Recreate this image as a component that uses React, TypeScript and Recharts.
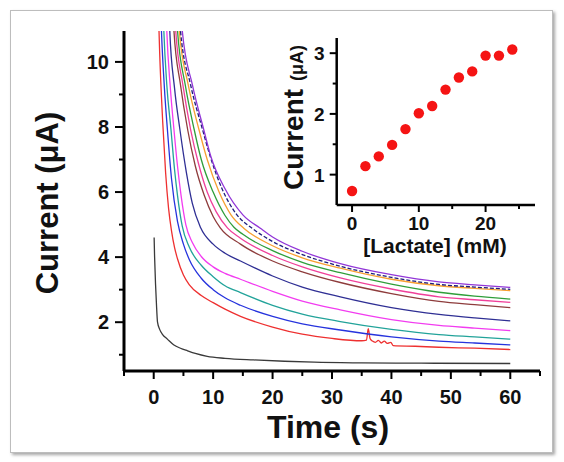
import React from 'react';
import { LineChart, Line, XAxis, YAxis, ScatterChart, Scatter } from 'recharts';

// main plot: current transients, time in s, current in uA
const timeTicks = [-5, 0, 5, 10, 15, 20, 25, 30, 35, 40, 45, 50, 55, 60, 65];
const currentTicks = [1, 2, 3, 4, 5, 6, 7, 8, 9, 10];

const blank0mM = [[0.07, 4.6], [0.15, 4.0], [0.3, 3.2], [0.45, 2.6], [0.64, 2.0], [1, 1.78], [1.5, 1.62], [2.3, 1.48], [3.4, 1.3], [4.5, 1.2], [5.7, 1.12], [7, 1.04], [9, 0.95], [12, 0.89], [16.8, 0.84], [22, 0.8], [27, 0.77], [35, 0.75], [45, 0.74], [60, 0.73]];
const red = [[0.8, 11.5], [1, 10.3], [1.5, 8.2], [2, 6.6], [2.5, 5.5], [3, 4.8], [3.5, 4.3], [4, 3.95], [5, 3.45], [6, 3.15], [8, 2.82], [10, 2.6], [12, 2.4], [14.6, 2.18], [20, 1.85], [25, 1.63], [30, 1.5], [35, 1.43], [35.8, 1.45], [36.1, 1.8], [36.4, 1.5], [36.8, 1.42], [37.3, 1.38], [37.8, 1.44], [38.3, 1.36], [38.8, 1.42], [39.3, 1.35], [39.9, 1.38], [40.3, 1.28], [44, 1.26], [48, 1.23], [54, 1.2], [60, 1.16]];
const blue = [[1.2, 11.5], [1.3, 10.97], [1.8, 9.2], [2.3, 7.93], [3, 6.4], [4, 5.1], [5, 4.4], [6, 3.92], [8, 3.35], [10, 3.0], [12, 2.75], [14.6, 2.52], [20, 2.18], [25, 1.95], [31.4, 1.76], [40, 1.55], [48, 1.42], [54, 1.36], [60, 1.3]];
const teal = [[1.6, 11.5], [1.7, 10.97], [2.2, 9.3], [2.9, 7.93], [3.5, 6.7], [4, 5.9], [4.8, 4.95], [6, 4.3], [8, 3.75], [10, 3.4], [12, 3.12], [14.6, 2.91], [20, 2.52], [25, 2.25], [31.4, 2.02], [40, 1.78], [48, 1.62], [54, 1.55], [60, 1.48]];
const magenta = [[2.1, 11.5], [2.2, 10.97], [2.8, 9.2], [3.4, 7.93], [4, 6.8], [4.6, 5.9], [5.4, 5.0], [6.5, 4.45], [8, 4.02], [10, 3.7], [12, 3.5], [14.6, 3.32], [20, 2.95], [25, 2.65], [31.4, 2.38], [40, 2.08], [48, 1.9], [54, 1.82], [60, 1.74]];
const navy = [[2.6, 11.5], [2.7, 10.97], [3.5, 9.2], [4.4, 7.93], [5.5, 6.6], [6.5, 5.65], [7.9, 4.9], [10, 4.4], [12, 4.12], [14.6, 3.88], [20, 3.42], [25, 3.08], [31.4, 2.78], [40, 2.45], [48, 2.24], [54, 2.13], [60, 2.04]];
const brown = [[3.3, 11.5], [3.4, 10.97], [4.5, 9.3], [5.7, 7.93], [7, 6.8], [8.5, 5.9], [10, 5.25], [11.2, 4.9], [14.6, 4.4], [20, 3.88], [25, 3.55], [31.4, 3.22], [40, 2.88], [48, 2.64], [54, 2.54], [60, 2.45]];
const pink = [[3.6, 11.5], [3.7, 10.97], [4.9, 9.3], [6.2, 7.93], [7.5, 6.9], [9, 6.0], [10.5, 5.4], [12.4, 4.9], [14.6, 4.58], [20, 4.05], [25, 3.7], [31.4, 3.36], [40, 3.02], [48, 2.78], [54, 2.69], [60, 2.61]];
const green = [[3.9, 11.5], [4, 10.97], [5.3, 9.3], [6.8, 7.93], [8, 7.0], [10, 6.0], [12, 5.28], [13.5, 4.92], [15, 4.7], [20, 4.2], [25, 3.84], [31.4, 3.52], [40, 3.17], [48, 2.92], [54, 2.8], [60, 2.71]];
const orange = [[4.2, 11.5], [4.3, 10.97], [5.8, 9.3], [7.6, 7.93], [9, 7.0], [11, 6.0], [13, 5.3], [15.2, 4.88], [20, 4.35], [25, 3.98], [31.4, 3.66], [40, 3.32], [48, 3.12], [54, 3.04], [60, 2.97]];
const navyDashed = [[4.4, 11.5], [4.5, 10.97], [6.2, 9.3], [8.2, 7.93], [9.5, 7.1], [11.5, 6.1], [14, 5.3], [16.6, 4.88], [20, 4.48], [25, 4.08], [31.4, 3.72], [40, 3.38], [48, 3.16], [54, 3.08], [60, 3.01]];
const purple = [[4.7, 11.5], [4.8, 10.97], [6.5, 9.3], [8.4, 7.93], [9.6, 7.1], [12, 6.1], [15, 5.3], [18, 4.88], [20, 4.62], [25, 4.18], [31.4, 3.8], [40, 3.46], [48, 3.24], [54, 3.15], [60, 3.07]];

// inset: current vs lactate
const lactate = [0, 2, 4, 6, 8, 10, 12, 14, 16, 18, 20, 22, 24];
const insetCurrent = [0.73, 1.14, 1.3, 1.49, 1.75, 2.01, 2.13, 2.4, 2.6, 2.7, 2.96, 2.96, 3.06];
const lactateTicks = [0, 5, 10, 15, 20, 25];
const insetCurrentTicks = [1, 1.5, 2, 2.5, 3];

const series = [
  { name: '0', pts: blank0mM, color: '#3a3a3a' },
  { name: 'red', pts: red, color: '#ee3030' },
  { name: 'blue', pts: blue, color: '#2633dd' },
  { name: 'teal', pts: teal, color: '#22a39a' },
  { name: 'magenta', pts: magenta, color: '#f23cf0' },
  { name: 'navy', pts: navy, color: '#2f2f94' },
  { name: 'brown', pts: brown, color: '#8e3c3c' },
  { name: 'pink', pts: pink, color: '#f0409a' },
  { name: 'green', pts: green, color: '#2f9e3a' },
  { name: 'orange', pts: orange, color: '#f7a032' },
  { name: 'navyDashed', pts: navyDashed, color: '#1d1d7a', dash: '4 2' },
  { name: 'purple', pts: purple, color: '#9236d8' },
];

const FONT = '"Liberation Sans", Arial, sans-serif';
const toRows = (pts: number[][]) => pts.map(([t, v]) => ({ t, v }));
const scatterData = lactate.map((x, i) => ({ x, y: insetCurrent[i] }));

const MainXTick = (props: any) => {
  const { x, y, payload } = props;
  const major = payload.value % 10 === 0;
  return (
    <g>
      <line x1={x} y1={y} x2={x} y2={y + (major ? 8 : 5)} stroke="#000" strokeWidth={2} />
      {major && (
        <text x={x} y={y + 33} textAnchor="middle" fontSize={20} fontWeight="bold" fontFamily={FONT} fill="#111">
          {payload.value}
        </text>
      )}
    </g>
  );
};

const MainYTick = (props: any) => {
  const { x, y, payload } = props;
  const major = payload.value % 2 === 0;
  return (
    <g>
      <line x1={x} y1={y} x2={x - (major ? 9 : 5)} y2={y} stroke="#000" strokeWidth={2} />
      {major && (
        <text x={x - 15} y={y + 7} textAnchor="end" fontSize={20} fontWeight="bold" fontFamily={FONT} fill="#111">
          {payload.value}
        </text>
      )}
    </g>
  );
};

const InsetXTick = (props: any) => {
  const { x, y, payload } = props;
  const major = payload.value % 10 === 0;
  return (
    <g>
      <line x1={x} y1={y} x2={x} y2={y + (major ? 7 : 4)} stroke="#000" strokeWidth={2} />
      {major && (
        <text x={x} y={y + 25} textAnchor="middle" fontSize={19} fontWeight="bold" fontFamily={FONT} fill="#111">
          {payload.value}
        </text>
      )}
    </g>
  );
};

const InsetYTick = (props: any) => {
  const { x, y, payload } = props;
  const major = Number.isInteger(payload.value);
  return (
    <g>
      <line x1={x} y1={y} x2={x - (major ? 7 : 4)} y2={y} stroke="#000" strokeWidth={2} />
      {major && (
        <text x={x - 12} y={y + 7} textAnchor="end" fontSize={19} fontWeight="bold" fontFamily={FONT} fill="#111">
          {payload.value}
        </text>
      )}
    </g>
  );
};

const frame = { stroke: '#000', strokeWidth: 3 };
const insetFrame = { stroke: '#000', strokeWidth: 2.5 };

export default function App() {
  return (
    <div style={{ position: 'absolute', left: 0, top: 0, width: 564, height: 462, background: '#fff' }}>
      <div
        style={{
          position: 'absolute', left: 10, top: 10, width: 541, height: 441,
          border: '1px solid #bdbdbd', boxShadow: '2px 2px 3px rgba(0,0,0,0.35)', background: '#fff',
        }}
      />
      <div style={{ position: 'absolute', left: 0, top: 0 }}>
        <LineChart width={564} height={462} margin={{ top: 31, right: 24, bottom: 31, left: 64 }}>
          <XAxis
            xAxisId="b" dataKey="t" type="number" domain={[-5, 65]} ticks={timeTicks}
            allowDataOverflow height={60} tickSize={0} tickMargin={0} tick={<MainXTick />}
            axisLine={frame} tickLine={false} interval={0}
            label={{
              content: () => (
                <text x={328} y={438} textAnchor="middle" fontSize={32} fontWeight="bold" fontFamily={FONT} fill="#111">
                  Time (s)
                </text>
              ),
            }}
          />
          <XAxis xAxisId="top" orientation="top" type="number" domain={[-5, 65]} height={0} tick={false} tickLine={false} axisLine={frame} />
          <YAxis
            yAxisId="l" type="number" domain={[0.5, 10.95]} ticks={currentTicks} allowDataOverflow
            width={60} tickSize={0} tickMargin={0} tick={<MainYTick />} axisLine={frame} tickLine={false} interval={0}
            label={{
              content: () => (
                <text x={58} y={203} transform="rotate(-90, 58, 203)" textAnchor="middle" fontSize={31} fontWeight="bold" fontFamily={FONT} fill="#111">
                  Current (μA)
                </text>
              ),
            }}
          />
          <YAxis yAxisId="r" orientation="right" type="number" domain={[0.5, 10.95]} width={0} tick={false} tickLine={false} axisLine={frame} />
          {series.map((s) => (
            <Line
              key={s.name} xAxisId="b" yAxisId="l" data={toRows(s.pts)} dataKey="v" type="monotone"
              stroke={s.color} strokeWidth={1.3} strokeDasharray={s.dash} dot={false} isAnimationActive={false}
            />
          ))}
        </LineChart>
      </div>
      <div style={{ position: 'absolute', left: 270, top: 20 }}>
        <ScatterChart width={280} height={240} margin={{ top: 18, right: 15, bottom: 5, left: 6 }}>
          <rect x={66.7} y={18.3} width={198.3} height={166.7} fill="#fff" />
          <XAxis
            xAxisId="b" dataKey="x" type="number" domain={[-2.3, 27.4]} ticks={lactateTicks} allowDataOverflow
            height={50} tickSize={0} tickMargin={0} tick={<InsetXTick />} axisLine={insetFrame} tickLine={false} interval={0}
            label={{
              content: () => (
                <text x={165} y={233} textAnchor="middle" fontSize={21} fontWeight="bold" fontFamily={FONT} fill="#111">
                  [Lactate] (mM)
                </text>
              ),
            }}
          />
          <XAxis xAxisId="top" orientation="top" type="number" domain={[-2.3, 27.4]} height={0} tick={false} tickLine={false} axisLine={insetFrame} />
          <YAxis
            yAxisId="l" dataKey="y" type="number" domain={[0.5, 3.25]} ticks={insetCurrentTicks} allowDataOverflow
            width={60.7} tickSize={0} tickMargin={0} tick={<InsetYTick />} axisLine={insetFrame} tickLine={false} interval={0}
            label={{
              content: () => (
                <text x={33} y={170} transform="rotate(-90, 33, 170)" textAnchor="start" fontWeight="bold" fontFamily={FONT} fill="#111">
                  <tspan fontSize={28}>Current </tspan>
                  <tspan fontSize={18}>(μA)</tspan>
                </text>
              ),
            }}
          />
          <YAxis yAxisId="r" orientation="right" type="number" domain={[0.5, 3.25]} width={0} tick={false} tickLine={false} axisLine={insetFrame} />
          <Scatter
            xAxisId="b" yAxisId="l" data={scatterData} isAnimationActive={false}
            shape={(p: any) => <circle cx={p.cx} cy={p.cy} r={5.2} fill="#f51414" />}
          />
        </ScatterChart>
      </div>
    </div>
  );
}
